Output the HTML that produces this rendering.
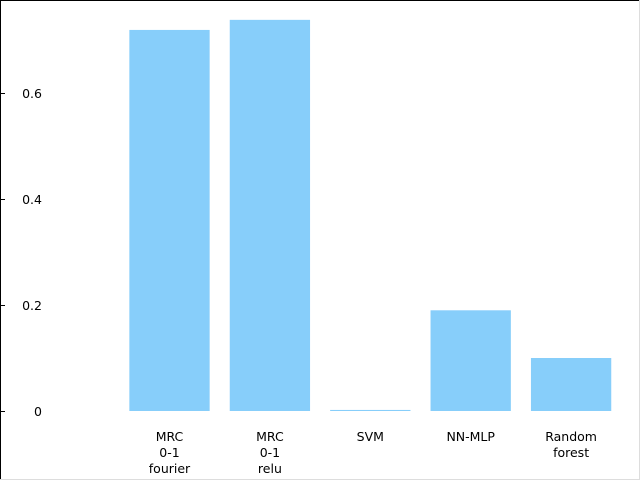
<!DOCTYPE html>
<html><head><meta charset="utf-8"><style>
html,body{margin:0;padding:0;background:#fff}
svg{display:block;font-family:"DejaVu Sans","Liberation Sans",sans-serif}
</style></head><body>
<svg id="chart" width="640" height="480">
<rect x="0.5" y="0.5" width="639" height="479" fill="#fff" stroke="none"/>
<line x1="0" y1="0.5" x2="640" y2="0.5" stroke="#000"/>
<line x1="0.5" y1="0" x2="0.5" y2="480" stroke="#000"/>
<line x1="639.5" y1="0" x2="639.5" y2="480" stroke="#ddd"/>
<line x1="0" y1="479.5" x2="640" y2="479.5" stroke="#ddd"/>
<g id="bars"></g><g id="yticks"></g><g id="xlabels"></g>
</svg>
<script>
const categories = [["MRC","0-1","fourier"],["MRC","0-1","relu"],["SVM"],["NN-MLP"],["Random","forest"]];
const values = [0.719, 0.738, 0.002, 0.19, 0.10];
const yTicks = [0, 0.2, 0.4, 0.6];
const yTickLabels = ["0","0.2","0.4","0.6"];
const NS="http://www.w3.org/2000/svg";
function y(v){return 411 - v*530;}
function xc(i){return 169.5 + i*100.4;}
const bw=80.3;
const bars=document.getElementById('bars');
values.forEach((v,i)=>{
  const r=document.createElementNS(NS,'rect');
  r.setAttribute('x',xc(i)-bw/2);
  const top=Math.min(y(v),410);
  r.setAttribute('y',top);
  r.setAttribute('width',bw);
  r.setAttribute('height',Math.max(y(0)-top,1));
  r.setAttribute('fill','#87cefa');
  
  
  bars.appendChild(r);
});
const yt=document.getElementById('yticks');
yTicks.forEach((t,i)=>{
  const l=document.createElementNS(NS,'line');
  l.setAttribute('x1',0);l.setAttribute('x2',5);
  l.setAttribute('y1',y(t)+0.5);l.setAttribute('y2',y(t)+0.5);
  l.setAttribute('stroke','#000');
  
  
  yt.appendChild(l);
  const tx=document.createElementNS(NS,'text');
  tx.setAttribute('x',42);tx.setAttribute('y',y(t)+5);
  tx.setAttribute('text-anchor','end');tx.setAttribute('font-size','12.5');
  tx.textContent=yTickLabels[i];
  
  
  yt.appendChild(tx);
});
const xl=document.getElementById('xlabels');
categories.forEach((lines,i)=>{
  lines.forEach((s,j)=>{
    const tx=document.createElementNS(NS,'text');
    tx.setAttribute('x',xc(i));tx.setAttribute('y',441+j*16);
    tx.setAttribute('text-anchor','middle');tx.setAttribute('font-size','12.5');
    tx.textContent=s;
    
    
    xl.appendChild(tx);
  });
});
</script>
</body></html>
